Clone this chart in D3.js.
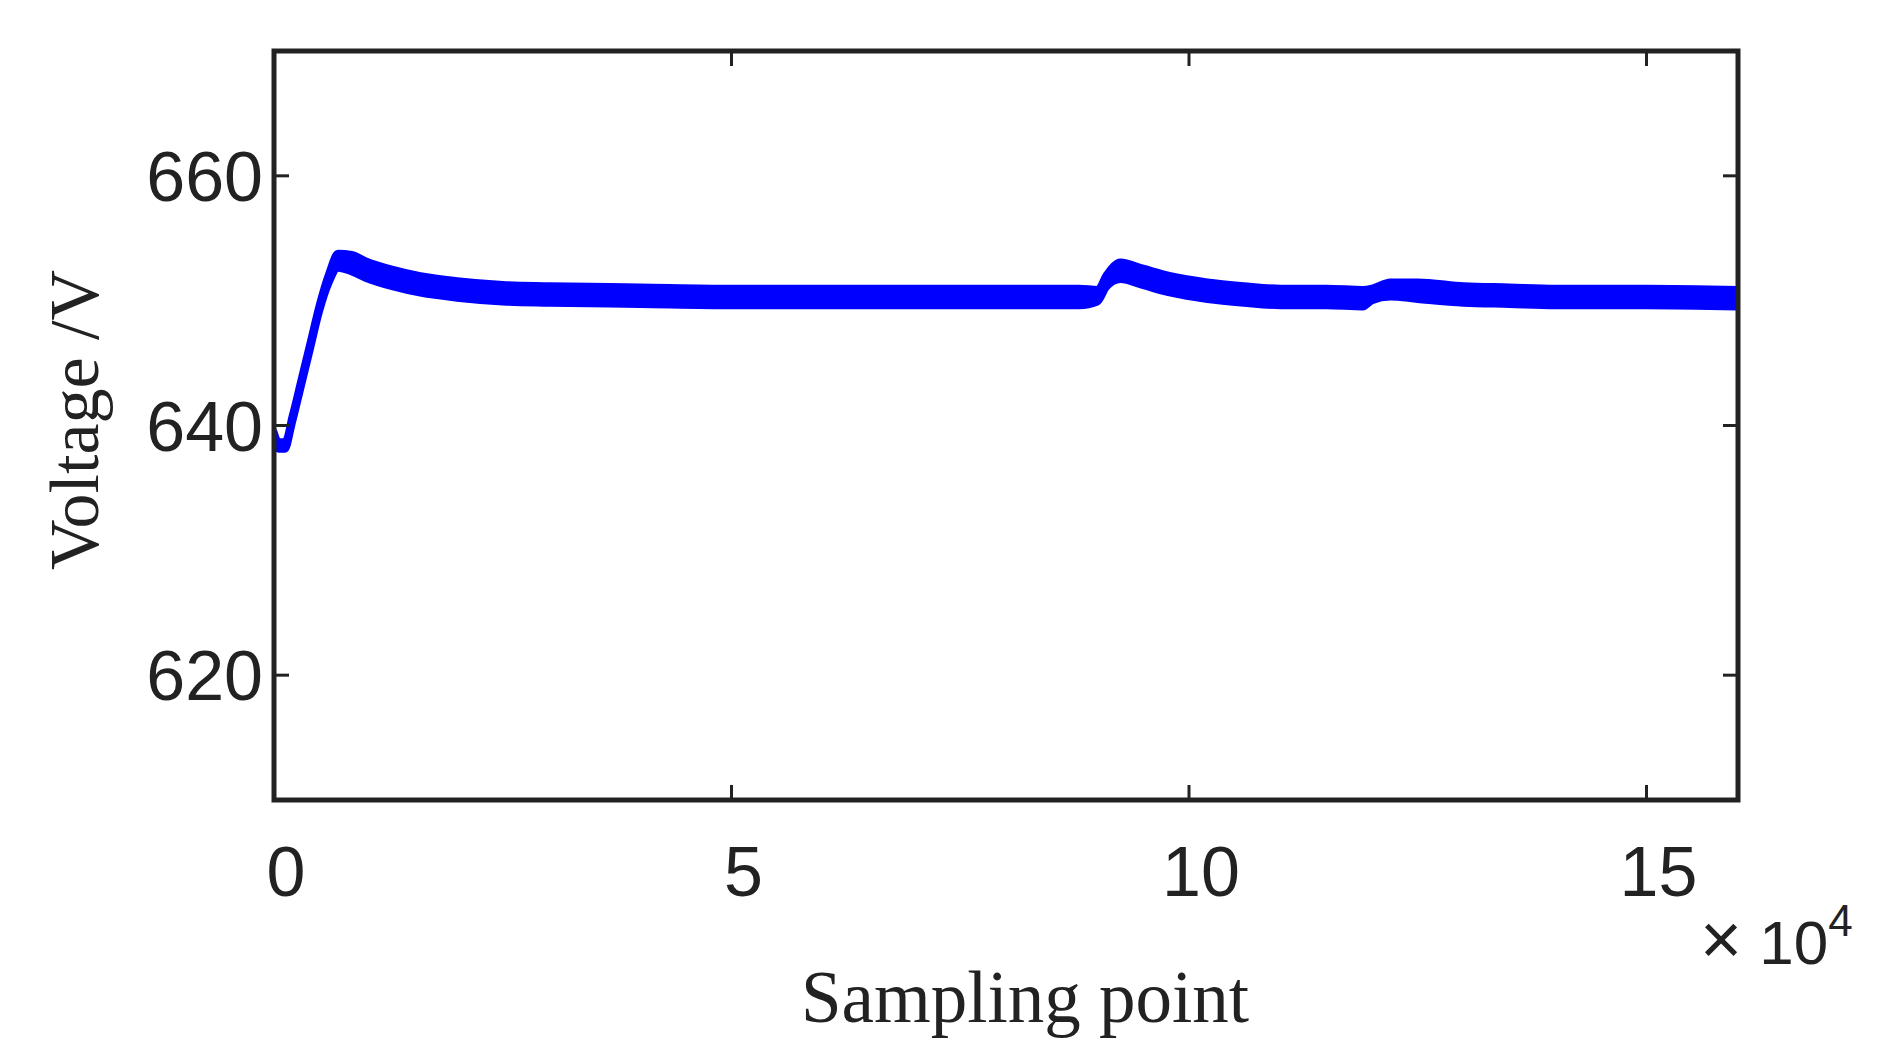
<!DOCTYPE html>
<html><head><meta charset="utf-8">
<script src="https://cdn.jsdelivr.net/npm/d3@7"></script>
<style>body{margin:0;background:#fff}</style></head>
<body><div id="chart"></div>
<script>
// sample positions (x 10^4), mean voltage and ripple half-amplitude
const samples = [0, 0.05, 0.12, 0.2, 0.3, 0.4, 0.5, 0.6, 0.7, 0.85, 1.0, 1.3, 1.6, 2.0, 2.5, 3.0, 4.0, 5.0, 6.0, 7.0, 8.0, 8.8, 9.0, 9.1, 9.25, 9.5, 9.8, 10.2, 10.6, 11.0, 11.5, 11.9, 12.0, 12.2, 12.5, 13.0, 13.5, 14.0, 15.0, 16.0];
const voltage = [639.2, 638.4, 638.4, 640.5, 643.5, 646.5, 649.5, 651.8, 653.2, 653.0, 652.5, 651.8, 651.3, 650.9, 650.6, 650.5, 650.4, 650.3, 650.3, 650.3, 650.3, 650.3, 650.4, 651.6, 652.4, 651.9, 651.3, 650.8, 650.5, 650.3, 650.3, 650.2, 650.5, 650.9, 650.8, 650.5, 650.4, 650.3, 650.3, 650.2];
const ripple = [0.3, 0.3, 0.3, 0.3, 0.3, 0.3, 0.3, 0.4, 0.6, 0.7, 0.7, 0.7, 0.7, 0.7, 0.7, 0.7, 0.7, 0.7, 0.7, 0.7, 0.7, 0.7, 0.5, 0.5, 0.7, 0.7, 0.7, 0.7, 0.7, 0.7, 0.7, 0.7, 0.5, 0.6, 0.7, 0.7, 0.7, 0.7, 0.7, 0.7];
const xTicks = [0, 5, 10, 15];
const yTicks = [620, 640, 660];

const W = 1877, H = 1056;
const m = {left: 274, right: W - 1738, top: 51, bottom: H - 800};
const svg = d3.select("#chart").append("svg").attr("width", W).attr("height", H);

const x = d3.scaleLinear().domain([0, 16]).range([m.left, W - m.right]);
const y = d3.scaleLinear().domain([610, 670]).range([H - m.bottom, m.top]);

const data = samples.map((s, i) => ({s, v: voltage[i], r: ripple[i]}));

svg.append("defs").append("clipPath").attr("id", "clip")
  .append("rect").attr("x", m.left).attr("y", m.top)
  .attr("width", x(16) - m.left).attr("height", y(610) - m.top);

const band = d3.area().x(d => x(d.s)).y0(d => y(d.v - d.r)).y1(d => y(d.v + d.r)).curve(d3.curveMonotoneX);
svg.append("path").datum(data).attr("clip-path", "url(#clip)")
  .attr("d", band).attr("fill", "#0000ff").attr("stroke", "#0000ff")
  .attr("stroke-width", 7).attr("stroke-linejoin", "round");

// ticks on all four sides, pointing inward
const tl = 15;
const g = svg.append("g").attr("stroke", "#222").attr("stroke-width", 3);
xTicks.forEach(t => {
  g.append("line").attr("x1", x(t)).attr("x2", x(t)).attr("y1", y(610)).attr("y2", y(610) - tl);
  g.append("line").attr("x1", x(t)).attr("x2", x(t)).attr("y1", y(670)).attr("y2", y(670) + tl);
});
yTicks.forEach(t => {
  g.append("line").attr("x1", x(0)).attr("x2", x(0) + tl).attr("y1", y(t)).attr("y2", y(t));
  g.append("line").attr("x1", x(16)).attr("x2", x(16) - tl).attr("y1", y(t)).attr("y2", y(t));
});
svg.append("rect").attr("x", m.left).attr("y", m.top)
  .attr("width", x(16) - m.left).attr("height", y(610) - m.top)
  .attr("fill", "none").attr("stroke", "#222").attr("stroke-width", 5);

const sans = "'Liberation Sans', Arial, sans-serif";
svg.selectAll(".xt").data(xTicks).join("text")
  .attr("x", d => x(d) + 12).attr("y", 896).attr("text-anchor", "middle")
  .attr("font-family", sans).attr("font-size", 70).attr("fill", "#222").text(d => d);
svg.selectAll(".yt").data(yTicks).join("text")
  .attr("x", 263).attr("y", d => y(d) + 25).attr("text-anchor", "end")
  .attr("font-family", sans).attr("font-size", 70).attr("fill", "#222").text(d => d);

const mult = svg.append("text").attr("x", 1700).attr("y", 964)
  .attr("font-family", sans).attr("font-size", 62).attr("fill", "#222");
mult.append("tspan").attr("font-size", 72).text("\u00d7");
mult.append("tspan").text(" 10");
mult.append("tspan").attr("dy", -28).attr("font-size", 44).text("4");

const serif = "'Liberation Serif', 'Times New Roman', serif";
svg.append("text").attr("x", 1025).attr("y", 1022).attr("text-anchor", "middle")
  .attr("font-family", serif).attr("font-size", 73).attr("fill", "#222").text("Sampling point");
svg.append("text").attr("transform", "translate(98,420) rotate(-90)").attr("text-anchor", "middle")
  .attr("font-family", serif).attr("font-size", 70).attr("fill", "#222").text("Voltage /V");
</script></body></html>
